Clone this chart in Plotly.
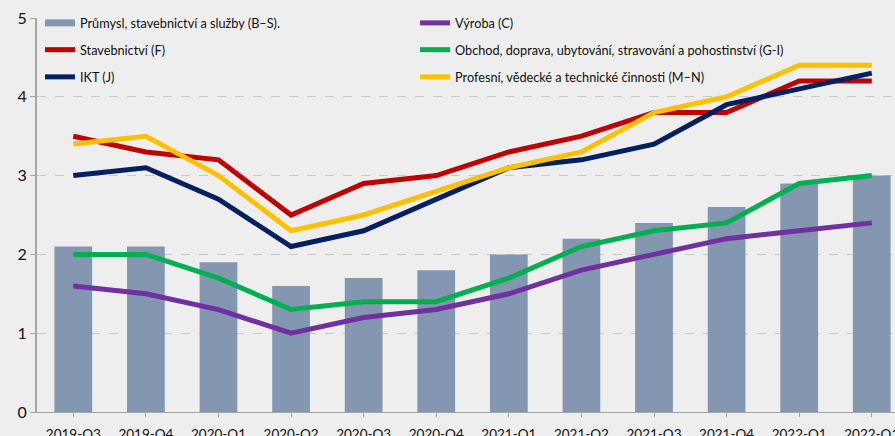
import plotly.graph_objects as go

categories = ["2019-Q3", "2019-Q4", "2020-Q1", "2020-Q2", "2020-Q3", "2020-Q4",
              "2021-Q1", "2021-Q2", "2021-Q3", "2021-Q4", "2022-Q1", "2022-Q1"]
prumysl = [2.1, 2.1, 1.9, 1.6, 1.7, 1.8, 2.0, 2.2, 2.4, 2.6, 2.9, 3.0]
vyroba = [1.6, 1.5, 1.3, 1.0, 1.2, 1.3, 1.5, 1.8, 2.0, 2.2, 2.3, 2.4]
stavebnictvi = [3.5, 3.3, 3.2, 2.5, 2.9, 3.0, 3.3, 3.5, 3.8, 3.8, 4.2, 4.2]
obchod = [2.0, 2.0, 1.7, 1.3, 1.4, 1.4, 1.7, 2.1, 2.3, 2.4, 2.9, 3.0]
ikt = [3.0, 3.1, 2.7, 2.1, 2.3, 2.7, 3.1, 3.2, 3.4, 3.9, 4.1, 4.3]
profesni = [3.4, 3.5, 3.0, 2.3, 2.5, 2.8, 3.1, 3.3, 3.8, 4.0, 4.4, 4.4]

x = list(range(len(categories)))
font = "Lato, 'Open Sans', sans-serif"
bar_color = "#8497b0"

fig = go.Figure()
fig.add_trace(go.Bar(x=x, y=prumysl, name="Průmysl, stavebnictví a služby (B–S).",
                     marker=dict(color=bar_color, line=dict(width=0)), width=0.52,
                     showlegend=False))
# legend entry for the bars (flat rectangle symbol, as in the reference)
fig.add_trace(go.Scatter(x=[None], y=[None], mode="lines",
                         name="Průmysl, stavebnictví a služby (B–S).",
                         line=dict(color=bar_color, width=7), legend="legend"))
lines = [
    ("Výroba (C)", vyroba, "#7030a0", "legend2"),
    ("Stavebnictví (F)", stavebnictvi, "#c00000", "legend3"),
    ("Obchod, doprava, ubytování, stravování a pohostinství (G-I)", obchod, "#00b050", "legend4"),
    ("IKT (J)", ikt, "#002060", "legend5"),
    ("Profesní, vědecké a technické činnosti (M–N)", profesni, "#ffc000", "legend6"),
]
for name, vals, col, lg in lines:
    fig.add_trace(go.Scatter(x=x, y=vals, name=name, mode="lines",
                             line=dict(color=col, width=5), legend=lg))

def leg(xp, yp):
    return dict(orientation="h", x=xp, y=yp, xanchor="left", yanchor="middle",
                bgcolor="rgba(0,0,0,0)",
                font=dict(size=12.7, family=font, color="#111111"))

c1, c2 = 0.0035, 0.4406
r1, r2, r3 = 0.987, 0.919, 0.850

fig.update_layout(
    width=895, height=436,
    margin=dict(l=37, r=0, t=18, b=24),
    paper_bgcolor="#eeeeee", plot_bgcolor="#eeeeee",
    font=dict(family=font, size=13, color="#111111"),
    showlegend=True,
    legend=leg(c1, r1), legend2=leg(c2, r1),
    legend3=leg(c1, r2), legend4=leg(c2, r2),
    legend5=leg(c1, r3), legend6=leg(c2, r3),
    bargap=0.48,
)
fig.update_xaxes(range=[-0.5, 11.32], tickmode="array", tickvals=x, ticktext=categories,
                 showline=True, linecolor="#a6a6a6", linewidth=1, ticks="outside",
                 tickson="boundaries",
                 tickcolor="#a6a6a6", ticklen=4, showgrid=False, zeroline=False,
                 tickfont=dict(size=13.5), automargin=False, ticklabeloverflow="allow",
                 ticklabelstandoff=6)
fig.update_yaxes(range=[0, 5], dtick=1, showgrid=True, gridcolor="#c8c8c8", griddash="dash",
                 gridwidth=1, showline=True, linecolor="#a6a6a6", linewidth=2,
                 ticks="outside", tickcolor="#a6a6a6", ticklen=5, zeroline=False,
                 tickfont=dict(size=16), automargin=False)
fig.write_html("out.html", config={"displayModeBar": False},
               post_script="document.body.style.margin='0px';")
